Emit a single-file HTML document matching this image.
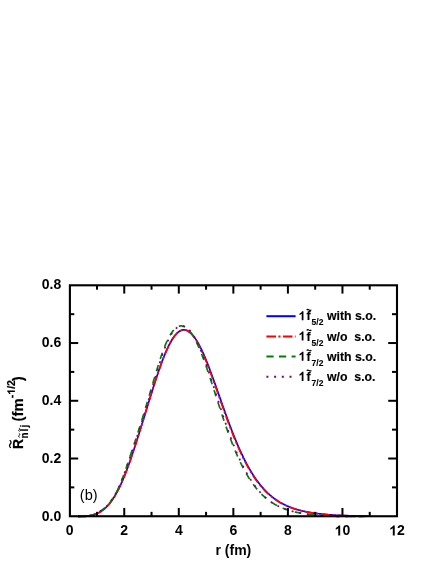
<!DOCTYPE html>
<html><head><meta charset="utf-8"><title>chart</title>
<style>
html,body{margin:0;padding:0;background:#fff;}
body{width:436px;height:564px;overflow:hidden;}
svg{display:block;will-change:transform;}
text{font-family:"Liberation Sans",sans-serif;fill:#000;}
.tk text{font-size:14px;font-weight:bold;}
.lg{font-size:12.3px;font-weight:bold;stroke:#000;stroke-width:0.15px;}
.sb{font-size:8.5px;font-weight:bold;stroke:#000;stroke-width:0.1px;}
.yl{font-size:14px;font-weight:bold;stroke:#000;stroke-width:0.2px;}
.ys{font-size:10px;font-weight:bold;stroke:#000;stroke-width:0.15px;}
.ax line{stroke:#000;stroke-width:2;}
.cv path{fill:none;stroke-width:1.7;stroke-linejoin:round;}
</style></head><body>
<svg width="436" height="564" viewBox="0 0 436 564">
<rect width="436" height="564" fill="#fff"/>
<g class="cv">
<path d="M78.00,516.37 L78.50,516.37 L79.00,516.37 L79.50,516.37 L80.00,516.37 L80.50,516.37 L81.00,516.37 L81.50,516.37 L82.00,516.37 L82.50,516.37 L83.00,516.37 L83.50,516.37 L84.00,516.36 L84.50,516.35 L85.00,516.33 L85.50,516.30 L86.00,516.26 L86.50,516.20 L87.00,516.14 L87.50,516.06 L88.00,515.98 L88.50,515.88 L89.00,515.78 L89.50,515.66 L90.00,515.55 L90.50,515.43 L91.00,515.31 L91.50,515.19 L92.00,515.08 L92.50,514.96 L93.00,514.84 L93.50,514.71 L94.00,514.57 L94.50,514.42 L95.00,514.26 L95.50,514.09 L96.00,513.90 L96.50,513.71 L97.00,513.51 L97.50,513.29 L98.00,513.06 L98.50,512.82 L99.00,512.57 L99.50,512.30 L100.00,512.02 L100.50,511.72 L101.00,511.41 L101.50,511.09 L102.00,510.75 L102.50,510.40 L103.00,510.02 L103.50,509.64 L104.00,509.23 L104.50,508.81 L105.00,508.37 L105.50,507.92 L106.00,507.45 L106.50,506.95 L107.00,506.45 L107.50,505.92 L108.00,505.37 L108.50,504.80 L109.00,504.22 L109.50,503.61 L110.00,502.99 L110.50,502.35 L111.00,501.68 L111.50,501.00 L112.00,500.29 L112.50,499.57 L113.00,498.82 L113.50,498.06 L114.00,497.27 L114.50,496.46 L115.00,495.63 L115.50,494.78 L116.00,493.91 L116.50,493.02 L117.00,492.11 L117.50,491.17 L118.00,490.22 L118.50,489.24 L119.00,488.24 L119.50,487.22 L120.00,486.17 L120.50,485.11 L121.00,484.02 L121.50,482.91 L122.00,481.79 L122.50,480.63 L123.00,479.46 L123.50,478.27 L124.00,477.06 L124.50,475.83 L125.00,474.57 L125.50,473.30 L126.00,472.02 L126.50,470.71 L127.00,469.39 L127.50,468.04 L128.00,466.69 L128.50,465.31 L129.00,463.92 L129.50,462.52 L130.00,461.10 L130.50,459.66 L131.00,458.22 L131.50,456.76 L132.00,455.28 L132.50,453.80 L133.00,452.30 L133.50,450.79 L134.00,449.27 L134.50,447.75 L135.00,446.21 L135.50,444.66 L136.00,443.11 L136.50,441.55 L137.00,439.98 L137.50,438.41 L138.00,436.83 L138.50,435.24 L139.00,433.65 L139.50,432.05 L140.00,430.45 L140.50,428.85 L141.00,427.24 L141.50,425.62 L142.00,424.01 L142.50,422.39 L143.00,420.77 L143.50,419.14 L144.00,417.51 L144.50,415.89 L145.00,414.26 L145.50,412.62 L146.00,410.99 L146.50,409.36 L147.00,407.73 L147.50,406.10 L148.00,404.47 L148.50,402.85 L149.00,401.22 L149.50,399.60 L150.00,397.98 L150.50,396.36 L151.00,394.75 L151.50,393.14 L152.00,391.54 L152.50,389.95 L153.00,388.36 L153.50,386.78 L154.00,385.20 L154.50,383.64 L155.00,382.08 L155.50,380.54 L156.00,379.00 L156.50,377.48 L157.00,375.97 L157.50,374.48 L158.00,372.99 L158.50,371.52 L159.00,370.07 L159.50,368.63 L160.00,367.21 L160.50,365.81 L161.00,364.42 L161.50,363.06 L162.00,361.71 L162.50,360.38 L163.00,359.07 L163.50,357.79 L164.00,356.53 L164.50,355.28 L165.00,354.07 L165.50,352.87 L166.00,351.70 L166.50,350.56 L167.00,349.44 L167.50,348.35 L168.00,347.28 L168.50,346.24 L169.00,345.23 L169.50,344.25 L170.00,343.30 L170.50,342.37 L171.00,341.48 L171.50,340.62 L172.00,339.78 L172.50,338.98 L173.00,338.21 L173.50,337.48 L174.00,336.77 L174.50,336.10 L175.00,335.46 L175.50,334.85 L176.00,334.28 L176.50,333.74 L177.00,333.24 L177.50,332.77 L178.00,332.33 L178.50,331.94 L179.00,331.57 L179.50,331.24 L180.00,330.95 L180.50,330.69 L181.00,330.47 L181.50,330.28 L182.00,330.13 L182.50,330.01 L183.00,329.94 L183.50,329.89 L184.00,329.88 L184.50,329.91 L185.00,329.98 L185.50,330.07 L186.00,330.21 L186.50,330.38 L187.00,330.58 L187.51,330.82 L188.01,331.09 L188.52,331.40 L189.02,331.74 L189.53,332.12 L190.04,332.53 L190.55,332.97 L191.06,333.44 L191.57,333.95 L192.08,334.49 L192.59,335.06 L193.10,335.66 L193.61,336.29 L194.13,336.96 L194.64,337.65 L195.15,338.37 L195.66,339.12 L196.17,339.90 L196.69,340.71 L197.20,341.54 L197.71,342.40 L198.22,343.29 L198.73,344.20 L199.24,345.14 L199.75,346.10 L200.26,347.09 L200.77,348.10 L201.28,349.13 L201.78,350.18 L202.29,351.26 L202.79,352.36 L203.30,353.47 L203.80,354.61 L204.30,355.76 L204.80,356.94 L205.30,358.13 L205.80,359.34 L206.30,360.56 L206.80,361.80 L207.30,363.06 L207.80,364.33 L208.30,365.61 L208.80,366.91 L209.30,368.21 L209.80,369.53 L210.30,370.87 L210.80,372.21 L211.30,373.56 L211.80,374.92 L212.30,376.29 L212.80,377.67 L213.30,379.05 L213.80,380.44 L214.30,381.84 L214.80,383.24 L215.30,384.65 L215.80,386.06 L216.30,387.48 L216.80,388.90 L217.30,390.32 L217.80,391.75 L218.30,393.17 L218.80,394.60 L219.30,396.03 L219.80,397.45 L220.30,398.88 L220.80,400.30 L221.30,401.73 L221.80,403.15 L222.30,404.57 L222.80,405.98 L223.30,407.40 L223.80,408.81 L224.30,410.21 L224.80,411.61 L225.30,413.00 L225.80,414.39 L226.30,415.78 L226.80,417.15 L227.30,418.52 L227.80,419.88 L228.30,421.24 L228.80,422.59 L229.30,423.93 L229.80,425.26 L230.30,426.58 L230.80,427.90 L231.30,429.20 L231.80,430.50 L232.30,431.78 L232.80,433.06 L233.30,434.32 L233.80,435.58 L234.30,436.82 L234.80,438.06 L235.30,439.28 L235.80,440.49 L236.30,441.69 L236.80,442.88 L237.30,444.06 L237.80,445.23 L238.30,446.38 L238.80,447.52 L239.30,448.65 L239.80,449.77 L240.30,450.88 L240.80,451.97 L241.30,453.05 L241.80,454.12 L242.30,455.18 L242.80,456.22 L243.30,457.25 L243.80,458.27 L244.30,459.27 L244.80,460.27 L245.30,461.25 L245.80,462.22 L246.30,463.17 L246.80,464.11 L247.30,465.04 L247.80,465.96 L248.30,466.86 L248.80,467.75 L249.30,468.63 L249.80,469.50 L250.30,470.35 L250.80,471.19 L251.30,472.02 L251.80,472.84 L252.30,473.65 L252.80,474.44 L253.30,475.22 L253.80,475.99 L254.30,476.74 L254.80,477.49 L255.30,478.22 L255.80,478.94 L256.30,479.65 L256.80,480.35 L257.30,481.04 L257.80,481.72 L258.30,482.38 L258.80,483.03 L259.30,483.68 L259.80,484.31 L260.30,484.93 L260.80,485.54 L261.30,486.14 L261.80,486.73 L262.30,487.31 L262.80,487.88 L263.30,488.44 L263.80,488.99 L264.30,489.53 L264.80,490.06 L265.30,490.58 L265.79,491.09 L266.29,491.60 L266.79,492.09 L267.29,492.57 L267.79,493.05 L268.29,493.52 L268.78,493.98 L269.28,494.42 L269.78,494.87 L270.28,495.30 L270.77,495.72 L271.27,496.14 L271.77,496.55 L272.26,496.95 L272.76,497.34 L273.26,497.73 L273.75,498.11 L274.25,498.48 L274.75,498.85 L275.24,499.20 L275.74,499.55 L276.24,499.90 L276.73,500.23 L277.23,500.57 L277.72,500.89 L278.22,501.21 L278.72,501.52 L279.21,501.82 L279.71,502.12 L280.20,502.42 L280.70,502.70 L281.19,502.99 L281.69,503.26 L282.19,503.53 L282.68,503.80 L283.18,504.06 L283.67,504.31 L284.17,504.56 L284.67,504.81 L285.16,505.05 L285.66,505.28 L286.15,505.51 L286.65,505.74 L287.15,505.96 L287.64,506.18 L288.14,506.39 L288.64,506.60 L289.13,506.80 L289.63,507.00 L290.13,507.20 L290.62,507.39 L291.12,507.58 L291.62,507.76 L292.11,507.94 L292.61,508.12 L293.11,508.29 L293.61,508.46 L294.10,508.62 L294.60,508.79 L295.10,508.95 L295.60,509.10 L296.10,509.26 L296.60,509.41 L297.09,509.55 L297.59,509.70 L298.09,509.84 L298.59,509.98 L299.09,510.11 L299.59,510.24 L300.09,510.37 L300.59,510.50 L301.09,510.62 L301.59,510.75 L302.09,510.87 L302.59,510.98 L303.09,511.10 L303.59,511.21 L304.09,511.32 L304.59,511.43 L305.09,511.53 L305.59,511.64 L306.09,511.74 L306.59,511.84 L307.09,511.94 L307.59,512.03 L308.09,512.13 L308.59,512.22 L309.09,512.31 L309.59,512.40 L310.09,512.48 L310.59,512.57 L311.09,512.65 L311.59,512.73 L312.09,512.81 L312.59,512.89 L313.09,512.97 L313.59,513.04 L314.09,513.12 L314.59,513.19 L315.09,513.26 L315.59,513.33 L316.09,513.40 L316.59,513.46 L317.09,513.53 L317.59,513.59 L318.09,513.65 L318.59,513.72 L319.09,513.78 L319.59,513.84 L320.09,513.89 L320.59,513.95 L321.09,514.01 L321.59,514.06 L322.09,514.12 L322.59,514.17 L323.09,514.22 L323.59,514.27 L324.09,514.32 L324.59,514.37 L325.09,514.42 L325.59,514.47 L326.09,514.51 L326.59,514.56 L327.09,514.60 L327.59,514.64 L328.09,514.69 L328.59,514.73 L329.09,514.77 L329.59,514.81 L330.09,514.85 L330.59,514.89 L331.09,514.93 L331.59,514.96 L332.09,515.00 L332.59,515.03 L333.09,515.07 L333.59,515.10 L334.09,515.13 L334.59,515.16 L335.09,515.19 L335.59,515.22 L336.09,515.25 L336.59,515.28 L337.09,515.30 L337.59,515.33 L338.09,515.35 L338.59,515.38 L339.09,515.40 L339.59,515.42 L340.09,515.45 L340.59,515.47 L341.09,515.49 L341.59,515.51 L342.09,515.53 L342.59,515.55 L343.09,515.56 L343.59,515.58 L344.09,515.60 L344.59,515.61 L345.09,515.63 L345.59,515.64 L346.09,515.66 L346.59,515.67 L347.09,515.69 L347.59,515.70 L348.09,515.71 L348.59,515.73 L349.09,515.74 L349.59,515.75 L350.09,515.76 L350.59,515.78 L351.09,515.79 L351.59,515.80 L352.09,515.81 L352.59,515.82 L353.09,515.83 L353.59,515.84 L354.09,515.85 L354.59,515.86 L355.09,515.88 L355.59,515.89 L356.09,515.90 L356.59,515.91 L357.09,515.92 L357.59,515.93 L358.09,515.94 L358.59,515.95 L359.09,515.96 L359.59,515.97 L360.09,515.98 L360.59,516.00 L361.09,516.01 L361.59,516.02 L362.09,516.03 L362.59,516.04 L363.09,516.05 L363.59,516.06 L364.09,516.07 L364.59,516.08 L365.09,516.09 L365.59,516.10 L366.09,516.11 L366.59,516.11 L367.09,516.12 L367.59,516.13 L368.09,516.14" stroke="#0000ff"/>
<path d="M78.00,516.37 L78.50,516.37 L79.00,516.37 L79.50,516.37 L80.00,516.37 L80.50,516.37 L81.00,516.37 L81.50,516.37 L82.00,516.37 L82.50,516.37 L83.00,516.37 L83.50,516.37 L84.00,516.36 L84.50,516.35 L85.00,516.33 L85.50,516.30 L86.00,516.26 L86.50,516.20 L87.00,516.14 L87.50,516.06 L88.00,515.98 L88.50,515.88 L89.00,515.78 L89.50,515.66 L90.00,515.55 L90.50,515.43 L91.00,515.31 L91.50,515.19 L92.00,515.08 L92.50,514.96 L93.00,514.84 L93.50,514.71 L94.00,514.57 L94.50,514.42 L95.00,514.26 L95.50,514.09 L96.00,513.90 L96.50,513.71 L97.00,513.51 L97.50,513.29 L98.00,513.06 L98.50,512.82 L99.00,512.57 L99.50,512.30 L100.00,512.02 L100.50,511.72 L101.00,511.41 L101.50,511.09 L102.00,510.75 L102.50,510.40 L103.00,510.02 L103.50,509.64 L104.00,509.23 L104.50,508.81 L105.00,508.37 L105.50,507.92 L106.00,507.45 L106.50,506.95 L107.00,506.45 L107.50,505.92 L108.00,505.37 L108.50,504.80 L109.00,504.22 L109.50,503.61 L110.00,502.99 L110.50,502.35 L111.00,501.68 L111.50,501.00 L112.00,500.29 L112.50,499.57 L113.00,498.82 L113.50,498.06 L114.00,497.27 L114.50,496.46 L115.00,495.63 L115.50,494.78 L116.00,493.91 L116.50,493.02 L117.00,492.11 L117.50,491.17 L118.00,490.22 L118.50,489.24 L119.00,488.24 L119.50,487.22 L120.00,486.17 L120.50,485.11 L121.00,484.02 L121.50,482.91 L122.00,481.79 L122.50,480.63 L123.00,479.46 L123.50,478.27 L124.00,477.06 L124.50,475.83 L125.00,474.57 L125.50,473.30 L126.00,472.02 L126.50,470.71 L127.00,469.39 L127.50,468.04 L128.00,466.69 L128.50,465.31 L129.00,463.92 L129.50,462.52 L130.00,461.10 L130.50,459.66 L131.00,458.22 L131.50,456.76 L132.00,455.28 L132.50,453.80 L133.00,452.30 L133.50,450.79 L134.00,449.27 L134.50,447.75 L135.00,446.21 L135.50,444.66 L136.00,443.11 L136.50,441.55 L137.00,439.98 L137.50,438.41 L138.00,436.83 L138.50,435.24 L139.00,433.65 L139.50,432.05 L140.00,430.45 L140.50,428.85 L141.00,427.24 L141.50,425.62 L142.00,424.01 L142.50,422.39 L143.00,420.77 L143.50,419.14 L144.00,417.51 L144.50,415.89 L145.00,414.26 L145.50,412.62 L146.00,410.99 L146.50,409.36 L147.00,407.73 L147.50,406.10 L148.00,404.47 L148.50,402.85 L149.00,401.22 L149.50,399.60 L150.00,397.98 L150.50,396.36 L151.00,394.75 L151.50,393.14 L152.00,391.54 L152.50,389.95 L153.00,388.36 L153.50,386.78 L154.00,385.20 L154.50,383.64 L155.00,382.08 L155.50,380.54 L156.00,379.00 L156.50,377.48 L157.00,375.97 L157.50,374.48 L158.00,372.99 L158.50,371.52 L159.00,370.07 L159.50,368.63 L160.00,367.21 L160.50,365.81 L161.00,364.42 L161.50,363.06 L162.00,361.71 L162.50,360.38 L163.00,359.07 L163.50,357.79 L164.00,356.53 L164.50,355.28 L165.00,354.07 L165.50,352.87 L166.00,351.70 L166.50,350.56 L167.00,349.44 L167.50,348.35 L168.00,347.28 L168.50,346.24 L169.00,345.23 L169.50,344.25 L170.00,343.30 L170.50,342.37 L171.00,341.48 L171.50,340.62 L172.00,339.78 L172.50,338.98 L173.00,338.21 L173.50,337.48 L174.00,336.77 L174.50,336.10 L175.00,335.46 L175.50,334.85 L176.00,334.28 L176.50,333.74 L177.00,333.24 L177.50,332.77 L178.00,332.33 L178.50,331.94 L179.00,331.57 L179.50,331.24 L180.00,330.95 L180.50,330.69 L181.00,330.47 L181.50,330.28 L182.00,330.13 L182.50,330.01 L183.00,329.94 L183.50,329.89 L184.00,329.88 L184.50,329.91 L185.00,329.98 L185.50,330.07 L186.00,330.21 L186.50,330.38 L187.00,330.58 L187.50,330.82 L187.99,331.09 L188.49,331.40 L188.99,331.74 L189.48,332.12 L189.97,332.53 L190.47,332.97 L190.96,333.44 L191.46,333.95 L191.95,334.49 L192.44,335.06 L192.93,335.66 L193.42,336.29 L193.92,336.96 L194.41,337.65 L194.90,338.37 L195.39,339.12 L195.88,339.90 L196.38,340.71 L196.87,341.54 L197.36,342.40 L197.85,343.29 L198.34,344.20 L198.84,345.14 L199.33,346.10 L199.83,347.09 L200.32,348.10 L200.81,349.13 L201.31,350.18 L201.81,351.26 L202.30,352.36 L202.80,353.47 L203.30,354.61 L203.80,355.76 L204.30,356.94 L204.80,358.13 L205.30,359.34 L205.80,360.56 L206.30,361.80 L206.80,363.06 L207.30,364.33 L207.80,365.61 L208.30,366.91 L208.80,368.21 L209.30,369.53 L209.80,370.87 L210.30,372.21 L210.80,373.56 L211.30,374.92 L211.80,376.29 L212.30,377.67 L212.80,379.05 L213.30,380.44 L213.80,381.84 L214.30,383.24 L214.80,384.65 L215.30,386.06 L215.80,387.48 L216.30,388.90 L216.80,390.32 L217.30,391.75 L217.80,393.17 L218.30,394.60 L218.80,396.03 L219.30,397.45 L219.80,398.88 L220.30,400.30 L220.80,401.73 L221.30,403.15 L221.80,404.57 L222.30,405.98 L222.80,407.40 L223.30,408.81 L223.80,410.21 L224.30,411.61 L224.80,413.00 L225.30,414.39 L225.80,415.78 L226.30,417.15 L226.80,418.52 L227.30,419.88 L227.80,421.24 L228.30,422.59 L228.80,423.93 L229.30,425.26 L229.80,426.58 L230.30,427.90 L230.80,429.20 L231.30,430.50 L231.80,431.78 L232.30,433.06 L232.80,434.32 L233.30,435.58 L233.80,436.82 L234.30,438.06 L234.80,439.28 L235.30,440.49 L235.80,441.69 L236.30,442.88 L236.80,444.06 L237.30,445.23 L237.80,446.38 L238.30,447.52 L238.80,448.65 L239.30,449.77 L239.80,450.88 L240.30,451.97 L240.80,453.05 L241.30,454.12 L241.80,455.18 L242.30,456.22 L242.80,457.25 L243.30,458.27 L243.80,459.27 L244.30,460.27 L244.80,461.25 L245.30,462.22 L245.80,463.17 L246.30,464.11 L246.80,465.04 L247.30,465.96 L247.80,466.86 L248.30,467.75 L248.80,468.63 L249.30,469.50 L249.80,470.35 L250.30,471.19 L250.80,472.02 L251.30,472.84 L251.80,473.65 L252.30,474.44 L252.80,475.22 L253.30,475.99 L253.80,476.74 L254.30,477.49 L254.80,478.22 L255.30,478.94 L255.80,479.65 L256.30,480.35 L256.80,481.04 L257.30,481.72 L257.80,482.38 L258.30,483.03 L258.80,483.68 L259.30,484.31 L259.80,484.93 L260.30,485.54 L260.80,486.14 L261.30,486.73 L261.80,487.31 L262.30,487.88 L262.80,488.44 L263.30,488.99 L263.80,489.53 L264.30,490.06 L264.80,490.58 L265.30,491.09 L265.80,491.60 L266.30,492.09 L266.80,492.57 L267.30,493.05 L267.80,493.52 L268.30,493.98 L268.80,494.42 L269.30,494.87 L269.80,495.30 L270.30,495.72 L270.80,496.14 L271.30,496.55 L271.80,496.95 L272.30,497.34 L272.80,497.73 L273.30,498.11 L273.80,498.48 L274.30,498.85 L274.80,499.20 L275.30,499.55 L275.80,499.90 L276.30,500.23 L276.80,500.57 L277.30,500.89 L277.80,501.21 L278.30,501.52 L278.80,501.82 L279.30,502.12 L279.80,502.42 L280.30,502.70 L280.80,502.99 L281.30,503.26 L281.80,503.53 L282.30,503.80 L282.80,504.06 L283.30,504.31 L283.80,504.56 L284.30,504.81 L284.80,505.05 L285.30,505.28 L285.80,505.51 L286.30,505.74 L286.80,505.96 L287.30,506.18 L287.80,506.39 L288.30,506.60 L288.80,506.80 L289.30,507.00 L289.80,507.20 L290.30,507.39 L290.80,507.58 L291.30,507.76 L291.80,507.94 L292.30,508.12 L292.80,508.29 L293.30,508.46 L293.80,508.62 L294.30,508.79 L294.80,508.95 L295.30,509.10 L295.80,509.26 L296.30,509.41 L296.80,509.55 L297.30,509.70 L297.80,509.84 L298.30,509.98 L298.80,510.11 L299.30,510.24 L299.80,510.37 L300.30,510.50 L300.80,510.62 L301.30,510.75 L301.80,510.87 L302.30,510.98 L302.80,511.10 L303.30,511.21 L303.80,511.32 L304.30,511.43 L304.80,511.53 L305.30,511.64 L305.80,511.74 L306.30,511.84 L306.80,511.94 L307.30,512.03 L307.80,512.13 L308.30,512.22 L308.80,512.31 L309.30,512.40 L309.80,512.48 L310.30,512.57 L310.80,512.65 L311.30,512.73 L311.80,512.81 L312.30,512.89 L312.80,512.97 L313.30,513.04 L313.80,513.12 L314.30,513.19 L314.80,513.26 L315.30,513.33 L315.80,513.40 L316.30,513.46 L316.80,513.53 L317.30,513.59 L317.80,513.65 L318.30,513.72 L318.80,513.78 L319.30,513.84 L319.80,513.89 L320.30,513.95 L320.80,514.01 L321.30,514.06 L321.80,514.12 L322.30,514.17 L322.80,514.22 L323.30,514.27 L323.80,514.32 L324.30,514.37 L324.80,514.42 L325.30,514.47 L325.80,514.51 L326.30,514.56 L326.80,514.60 L327.30,514.64 L327.80,514.69 L328.30,514.73 L328.80,514.77 L329.30,514.81 L329.80,514.85 L330.30,514.89 L330.80,514.93 L331.30,514.96 L331.80,515.00 L332.30,515.03 L332.80,515.07 L333.30,515.10 L333.80,515.13 L334.30,515.16 L334.80,515.19 L335.30,515.22 L335.80,515.25 L336.30,515.28 L336.80,515.30 L337.30,515.33 L337.80,515.35 L338.30,515.38 L338.80,515.40 L339.30,515.42 L339.80,515.45 L340.30,515.47 L340.80,515.49 L341.30,515.51 L341.80,515.53 L342.30,515.55 L342.80,515.56 L343.30,515.58 L343.80,515.60 L344.30,515.61 L344.80,515.63 L345.30,515.64 L345.80,515.66 L346.30,515.67 L346.80,515.69 L347.30,515.70 L347.80,515.71 L348.30,515.73 L348.80,515.74 L349.30,515.75 L349.80,515.76 L350.30,515.78 L350.80,515.79 L351.30,515.80 L351.80,515.81 L352.30,515.82 L352.80,515.83 L353.30,515.84 L353.80,515.85 L354.30,515.86 L354.80,515.88 L355.30,515.89 L355.80,515.90 L356.30,515.91 L356.80,515.92 L357.30,515.93 L357.80,515.94 L358.30,515.95 L358.80,515.96 L359.30,515.97 L359.80,515.98 L360.30,516.00 L360.80,516.01 L361.30,516.02 L361.80,516.03 L362.30,516.04 L362.80,516.05 L363.30,516.06 L363.80,516.07 L364.30,516.08 L364.80,516.09 L365.30,516.10 L365.80,516.11 L366.30,516.11 L366.80,516.12 L367.30,516.13 L367.80,516.14" stroke="#ff0000" stroke-dasharray="8.6 2.7 2.3 2.7"/>
<path d="M78.00,516.37 L78.50,516.37 L79.00,516.37 L79.50,516.37 L80.00,516.37 L80.50,516.37 L81.00,516.37 L81.50,516.37 L82.00,516.37 L82.50,516.37 L83.00,516.37 L83.50,516.37 L84.00,516.36 L84.50,516.35 L85.00,516.33 L85.50,516.31 L86.00,516.29 L86.50,516.26 L87.00,516.22 L87.50,516.18 L88.00,516.12 L88.50,516.06 L89.00,515.98 L89.50,515.88 L90.00,515.77 L90.50,515.65 L91.00,515.52 L91.50,515.37 L92.00,515.22 L92.50,515.07 L93.00,514.90 L93.50,514.72 L94.00,514.53 L94.50,514.33 L95.00,514.11 L95.50,513.89 L96.00,513.66 L96.50,513.41 L97.00,513.15 L97.50,512.89 L98.00,512.61 L98.50,512.32 L99.00,512.03 L99.50,511.72 L100.00,511.40 L100.50,511.08 L101.00,510.74 L101.50,510.39 L102.00,510.04 L102.50,509.67 L103.00,509.29 L103.50,508.90 L104.00,508.49 L104.50,508.07 L105.00,507.64 L105.50,507.19 L106.00,506.72 L106.50,506.24 L107.00,505.73 L107.50,505.21 L108.00,504.68 L108.50,504.12 L109.00,503.54 L109.50,502.94 L110.00,502.32 L110.50,501.67 L111.00,501.01 L111.50,500.32 L112.00,499.60 L112.50,498.87 L113.00,498.11 L113.50,497.32 L114.00,496.50 L114.50,495.66 L115.00,494.80 L115.50,493.90 L116.00,492.98 L116.50,492.03 L117.00,491.05 L117.50,490.04 L118.00,489.00 L118.50,487.93 L119.00,486.82 L119.50,485.69 L120.00,484.53 L120.50,483.33 L121.00,482.10 L121.50,480.84 L122.00,479.55 L122.50,478.23 L123.00,476.89 L123.50,475.53 L124.00,474.14 L124.50,472.74 L125.00,471.32 L125.50,469.89 L126.00,468.45 L126.50,466.99 L127.00,465.52 L127.50,464.04 L128.00,462.56 L128.50,461.07 L129.00,459.57 L129.50,458.07 L130.00,456.57 L130.50,455.06 L131.00,453.56 L131.50,452.06 L132.00,450.55 L132.50,449.04 L133.00,447.53 L133.50,446.02 L134.00,444.50 L134.50,442.98 L135.00,441.46 L135.50,439.93 L136.00,438.40 L136.50,436.86 L137.00,435.32 L137.50,433.77 L138.00,432.22 L138.50,430.66 L139.00,429.09 L139.50,427.52 L140.00,425.93 L140.50,424.35 L141.00,422.75 L141.50,421.15 L142.00,419.53 L142.50,417.92 L143.00,416.29 L143.50,414.66 L144.00,413.02 L144.50,411.37 L145.00,409.72 L145.50,408.07 L146.00,406.40 L146.50,404.74 L147.00,403.06 L147.50,401.38 L148.00,399.70 L148.50,398.01 L149.00,396.32 L149.50,394.63 L150.00,392.93 L150.50,391.23 L151.00,389.53 L151.50,387.83 L152.00,386.13 L152.50,384.43 L153.00,382.73 L153.50,381.04 L154.00,379.35 L154.50,377.67 L155.00,376.00 L155.50,374.33 L156.00,372.67 L156.50,371.02 L157.00,369.38 L157.50,367.76 L158.00,366.14 L158.50,364.54 L159.00,362.96 L159.50,361.39 L160.00,359.84 L160.50,358.31 L161.00,356.80 L161.50,355.31 L162.00,353.86 L162.50,352.43 L163.00,351.04 L163.50,349.67 L164.00,348.35 L164.50,347.06 L165.00,345.80 L165.50,344.58 L166.00,343.40 L166.50,342.25 L167.00,341.15 L167.50,340.08 L168.00,339.05 L168.50,338.06 L169.00,337.10 L169.50,336.19 L170.00,335.31 L170.50,334.47 L171.00,333.67 L171.50,332.91 L172.00,332.19 L172.50,331.51 L173.00,330.87 L173.50,330.27 L174.00,329.71 L174.50,329.19 L175.00,328.71 L175.50,328.26 L176.00,327.86 L176.50,327.49 L177.00,327.17 L177.50,326.88 L178.00,326.63 L178.50,326.42 L179.00,326.25 L179.50,326.11 L180.00,326.02 L180.50,325.96 L181.00,325.93 L181.50,325.95 L182.00,326.00 L182.50,326.08 L183.00,326.20 L183.50,326.36 L184.00,326.55 L184.50,326.77 L185.00,327.03 L185.50,327.33 L186.00,327.66 L186.50,328.03 L187.00,328.43 L187.50,328.86 L188.00,329.33 L188.50,329.84 L189.00,330.37 L189.50,330.95 L190.00,331.55 L190.50,332.19 L191.00,332.86 L191.50,333.56 L192.00,334.30 L192.50,335.06 L193.00,335.86 L193.50,336.69 L194.00,337.55 L194.50,338.44 L195.00,339.35 L195.50,340.30 L196.00,341.28 L196.50,342.28 L197.00,343.31 L197.50,344.37 L198.00,345.46 L198.50,346.57 L199.00,347.71 L199.50,348.87 L200.00,350.05 L200.50,351.26 L201.00,352.49 L201.50,353.75 L202.00,355.03 L202.50,356.32 L203.00,357.64 L203.50,358.97 L204.00,360.33 L204.50,361.70 L205.00,363.09 L205.50,364.49 L206.00,365.91 L206.50,367.34 L207.00,368.79 L207.50,370.25 L208.00,371.72 L208.50,373.20 L209.00,374.69 L209.50,376.19 L210.00,377.70 L210.50,379.22 L211.00,380.74 L211.50,382.27 L212.00,383.81 L212.50,385.35 L213.00,386.90 L213.50,388.45 L214.00,390.00 L214.50,391.55 L215.00,393.11 L215.50,394.66 L216.00,396.22 L216.50,397.78 L217.00,399.33 L217.50,400.88 L218.00,402.44 L218.50,403.98 L219.00,405.53 L219.50,407.07 L220.00,408.60 L220.50,410.13 L221.00,411.65 L221.50,413.17 L222.00,414.68 L222.50,416.19 L223.00,417.68 L223.50,419.17 L224.00,420.65 L224.50,422.12 L225.00,423.58 L225.50,425.03 L226.00,426.47 L226.50,427.90 L227.00,429.31 L227.50,430.72 L228.00,432.11 L228.50,433.50 L229.00,434.87 L229.50,436.22 L230.00,437.57 L230.50,438.90 L231.00,440.22 L231.50,441.52 L232.00,442.82 L232.50,444.09 L233.00,445.36 L233.50,446.60 L234.00,447.84 L234.50,449.06 L235.00,450.27 L235.50,451.46 L236.00,452.63 L236.50,453.80 L237.00,454.94 L237.50,456.08 L238.00,457.19 L238.50,458.30 L239.00,459.39 L239.50,460.46 L240.00,461.52 L240.50,462.56 L241.00,463.59 L241.50,464.60 L242.00,465.60 L242.50,466.59 L243.00,467.56 L243.50,468.51 L244.00,469.45 L244.50,470.38 L245.00,471.29 L245.50,472.19 L246.00,473.07 L246.50,473.94 L247.00,474.80 L247.50,475.64 L248.00,476.46 L248.50,477.28 L249.00,478.08 L249.50,478.86 L250.00,479.64 L250.50,480.40 L251.00,481.15 L251.50,481.88 L252.00,482.60 L252.50,483.31 L253.00,484.01 L253.50,484.69 L254.00,485.36 L254.50,486.02 L255.00,486.67 L255.50,487.30 L256.00,487.93 L256.50,488.54 L257.00,489.14 L257.50,489.73 L258.00,490.31 L258.50,490.88 L259.00,491.44 L259.50,491.98 L260.00,492.52 L260.50,493.04 L261.00,493.56 L261.50,494.06 L262.00,494.56 L262.50,495.05 L263.00,495.52 L263.50,495.99 L264.00,496.45 L264.50,496.89 L265.00,497.33 L265.50,497.76 L266.00,498.18 L266.50,498.60 L267.00,499.00 L267.50,499.40 L268.00,499.78 L268.50,500.16 L269.00,500.54 L269.50,500.90 L270.00,501.26 L270.50,501.61 L271.00,501.95 L271.50,502.28 L272.00,502.61 L272.50,502.93 L273.00,503.24 L273.50,503.55 L274.00,503.85 L274.50,504.14 L275.00,504.43 L275.50,504.71 L276.00,504.99 L276.50,505.26 L277.00,505.52 L277.50,505.78 L278.00,506.03 L278.50,506.28 L279.00,506.52 L279.50,506.76 L280.00,506.99 L280.50,507.21 L281.00,507.43 L281.50,507.65 L282.00,507.86 L282.50,508.07 L283.00,508.27 L283.50,508.47 L284.00,508.66 L284.50,508.85 L285.00,509.03 L285.50,509.21 L286.00,509.39 L286.50,509.56 L287.00,509.73 L287.50,509.90 L288.00,510.06 L288.50,510.22 L289.00,510.37 L289.50,510.52 L290.00,510.67 L290.50,510.81 L291.00,510.95 L291.50,511.09 L292.00,511.23 L292.50,511.36 L293.00,511.49 L293.50,511.61 L294.00,511.74 L294.50,511.86 L295.00,511.97 L295.50,512.09 L296.00,512.20 L296.50,512.31 L297.00,512.42 L297.50,512.52 L298.00,512.63 L298.50,512.73 L299.00,512.83 L299.50,512.92 L300.00,513.02 L300.50,513.11 L301.00,513.20 L301.50,513.29 L302.00,513.37 L302.50,513.46 L303.00,513.54 L303.50,513.62 L304.00,513.70 L304.50,513.77 L305.00,513.85 L305.50,513.92 L306.00,513.99 L306.50,514.06 L307.00,514.13 L307.50,514.20 L308.00,514.26 L308.50,514.33 L309.00,514.39 L309.50,514.45 L310.00,514.51 L310.50,514.57 L311.00,514.63 L311.50,514.68 L312.00,514.74 L312.50,514.79 L313.00,514.84 L313.50,514.89 L314.00,514.94 L314.50,514.99 L315.00,515.04 L315.50,515.09 L316.00,515.13 L316.50,515.18 L317.00,515.22 L317.50,515.27 L318.00,515.31 L318.50,515.35 L319.00,515.39 L319.50,515.43 L320.00,515.47 L320.50,515.50 L321.00,515.54 L321.50,515.57 L322.00,515.61 L322.50,515.64 L323.00,515.68 L323.50,515.71 L324.00,515.74 L324.50,515.77 L325.00,515.80 L325.50,515.83 L326.00,515.86 L326.50,515.89 L327.00,515.92 L327.50,515.94 L328.00,515.97 L328.50,516.00 L329.00,516.02 L329.50,516.05 L330.00,516.07 L330.50,516.09 L331.00,516.11 L331.50,516.14 L332.00,516.16 L332.50,516.18 L333.00,516.19 L333.50,516.21 L334.00,516.23 L334.50,516.24 L335.00,516.26 L335.50,516.27 L336.00,516.28 L336.50,516.29 L337.00,516.30 L337.50,516.31 L338.00,516.32 L338.50,516.33 L339.00,516.34 L339.50,516.35 L340.00,516.35 L340.50,516.36 L341.00,516.36 L341.50,516.37 L342.00,516.37 L342.50,516.37 L343.00,516.37 L343.50,516.37 L344.00,516.37 L344.50,516.37 L345.00,516.37 L345.50,516.37 L346.00,516.37 L346.50,516.37 L347.00,516.37 L347.50,516.37 L348.00,516.37 L348.50,516.37 L349.00,516.37 L349.50,516.37 L350.00,516.37 L350.50,516.36 L351.00,516.36 L351.50,516.36 L352.00,516.36 L352.50,516.36 L353.00,516.35 L353.50,516.35 L354.00,516.35 L354.50,516.35 L355.00,516.35 L355.50,516.34 L356.00,516.34 L356.50,516.34 L357.00,516.34 L357.50,516.34 L358.00,516.34 L358.50,516.34 L359.00,516.35 L359.50,516.35 L360.00,516.35 L360.50,516.35 L361.00,516.36 L361.50,516.36 L362.00,516.36 L362.50,516.36 L363.00,516.36 L363.50,516.37 L364.00,516.37 L364.50,516.37 L365.00,516.37 L365.50,516.37 L366.00,516.37 L366.50,516.37 L367.00,516.37 L367.50,516.37 L368.00,516.37" stroke="#008000" stroke-dasharray="6.5 6.3" stroke-dashoffset="3"/>
<path d="M78.00,516.37 L78.50,516.37 L79.00,516.37 L79.50,516.37 L80.00,516.37 L80.50,516.37 L81.00,516.37 L81.50,516.37 L82.00,516.37 L82.50,516.37 L83.00,516.37 L83.50,516.37 L84.00,516.36 L84.50,516.35 L85.00,516.33 L85.50,516.31 L86.00,516.29 L86.50,516.26 L87.00,516.22 L87.50,516.18 L88.00,516.12 L88.50,516.06 L89.00,515.98 L89.50,515.88 L90.00,515.77 L90.50,515.65 L91.00,515.52 L91.50,515.37 L92.00,515.22 L92.50,515.07 L93.00,514.90 L93.50,514.72 L94.00,514.53 L94.50,514.33 L95.00,514.11 L95.50,513.89 L96.00,513.66 L96.50,513.41 L97.00,513.15 L97.50,512.89 L98.00,512.61 L98.50,512.32 L99.00,512.03 L99.50,511.72 L100.00,511.40 L100.50,511.08 L101.00,510.74 L101.50,510.39 L102.00,510.04 L102.50,509.67 L103.00,509.29 L103.50,508.90 L104.00,508.49 L104.50,508.07 L105.00,507.64 L105.50,507.19 L106.00,506.72 L106.50,506.24 L107.00,505.73 L107.50,505.21 L108.00,504.68 L108.50,504.12 L109.00,503.54 L109.50,502.94 L110.00,502.32 L110.50,501.67 L111.00,501.01 L111.50,500.32 L112.00,499.60 L112.50,498.87 L113.00,498.11 L113.50,497.32 L114.00,496.50 L114.50,495.66 L115.00,494.80 L115.50,493.90 L116.00,492.98 L116.50,492.03 L117.01,491.05 L117.51,490.04 L118.01,489.00 L118.52,487.93 L119.03,486.82 L119.53,485.69 L120.04,484.53 L120.55,483.33 L121.05,482.10 L121.56,480.84 L122.07,479.55 L122.58,478.23 L123.09,476.89 L123.60,475.53 L124.12,474.14 L124.63,472.74 L125.14,471.32 L125.65,469.89 L126.16,468.45 L126.68,466.99 L127.19,465.52 L127.70,464.04 L128.22,462.56 L128.73,461.07 L129.25,459.57 L129.76,458.07 L130.28,456.57 L130.79,455.06 L131.31,453.56 L131.82,452.06 L132.34,450.55 L132.85,449.04 L133.36,447.53 L133.88,446.02 L134.39,444.50 L134.91,442.98 L135.42,441.46 L135.94,439.93 L136.45,438.40 L136.97,436.86 L137.48,435.32 L138.00,433.77 L138.51,432.22 L139.02,430.66 L139.54,429.09 L140.05,427.52 L140.56,425.93 L141.07,424.35 L141.58,422.75 L142.10,421.15 L142.61,419.53 L143.12,417.92 L143.63,416.29 L144.14,414.66 L144.65,413.02 L145.15,411.37 L145.66,409.72 L146.17,408.07 L146.67,406.40 L147.18,404.74 L147.69,403.06 L148.19,401.38 L148.69,399.70 L149.20,398.01 L149.70,396.32 L150.20,394.63 L150.70,392.93 L151.20,391.23 L151.70,389.53 L152.20,387.83 L152.70,386.13 L153.20,384.43 L153.70,382.73 L154.20,381.04 L154.70,379.35 L155.20,377.67 L155.70,376.00 L156.20,374.33 L156.70,372.67 L157.20,371.02 L157.70,369.38 L158.20,367.76 L158.70,366.14 L159.20,364.54 L159.70,362.96 L160.20,361.39 L160.70,359.84 L161.20,358.31 L161.70,356.80 L162.20,355.31 L162.70,353.86 L163.20,352.43 L163.70,351.04 L164.20,349.67 L164.70,348.35 L165.20,347.06 L165.70,345.80 L166.20,344.58 L166.70,343.40 L167.20,342.25 L167.70,341.15 L168.20,340.08 L168.70,339.05 L169.20,338.06 L169.70,337.10 L170.20,336.19 L170.70,335.31 L171.20,334.47 L171.70,333.67 L172.20,332.91 L172.70,332.19 L173.20,331.51 L173.70,330.87 L174.20,330.27 L174.70,329.71 L175.20,329.19 L175.70,328.71 L176.20,328.26 L176.70,327.86 L177.20,327.49 L177.70,327.17 L178.20,326.88 L178.70,326.63 L179.20,326.42 L179.70,326.25 L180.20,326.11 L180.70,326.02 L181.20,325.96 L181.70,325.93 L182.20,325.95 L182.70,326.00 L183.20,326.08 L183.70,326.20 L184.20,326.36 L184.70,326.55 L185.20,326.77 L185.70,327.03 L186.20,327.33 L186.70,327.66 L187.20,328.03 L187.70,328.43 L188.20,328.86 L188.70,329.33 L189.20,329.84 L189.70,330.37 L190.20,330.95 L190.70,331.55 L191.20,332.19 L191.70,332.86 L192.20,333.56 L192.70,334.30 L193.20,335.06 L193.70,335.86 L194.20,336.69 L194.70,337.55 L195.20,338.44 L195.70,339.35 L196.20,340.30 L196.70,341.28 L197.20,342.28 L197.70,343.31 L198.20,344.37 L198.70,345.46 L199.20,346.57 L199.70,347.71 L200.20,348.87 L200.70,350.05 L201.20,351.26 L201.70,352.49 L202.20,353.75 L202.70,355.03 L203.20,356.32 L203.70,357.64 L204.20,358.97 L204.70,360.33 L205.20,361.70 L205.70,363.09 L206.20,364.49 L206.70,365.91 L207.20,367.34 L207.70,368.79 L208.20,370.25 L208.70,371.72 L209.20,373.20 L209.70,374.69 L210.20,376.19 L210.70,377.70 L211.20,379.22 L211.70,380.74 L212.20,382.27 L212.70,383.81 L213.20,385.35 L213.70,386.90 L214.20,388.45 L214.70,390.00 L215.20,391.55 L215.70,393.11 L216.20,394.66 L216.70,396.22 L217.20,397.78 L217.70,399.33 L218.20,400.88 L218.70,402.44 L219.20,403.98 L219.70,405.53 L220.20,407.07 L220.70,408.60 L221.20,410.13 L221.70,411.65 L222.20,413.17 L222.70,414.68 L223.20,416.19 L223.70,417.68 L224.20,419.17 L224.70,420.65 L225.20,422.12 L225.70,423.58 L226.20,425.03 L226.70,426.47 L227.20,427.90 L227.70,429.31 L228.20,430.72 L228.70,432.11 L229.20,433.50 L229.70,434.87 L230.20,436.22 L230.70,437.57 L231.20,438.90 L231.70,440.22 L232.20,441.52 L232.70,442.82 L233.20,444.09 L233.70,445.36 L234.20,446.60 L234.70,447.84 L235.20,449.06 L235.70,450.27 L236.20,451.46 L236.70,452.63 L237.20,453.80 L237.70,454.94 L238.20,456.08 L238.70,457.19 L239.20,458.30 L239.70,459.39 L240.20,460.46 L240.70,461.52 L241.20,462.56 L241.70,463.59 L242.20,464.60 L242.70,465.60 L243.20,466.59 L243.70,467.56 L244.20,468.51 L244.70,469.45 L245.20,470.38 L245.70,471.29 L246.20,472.19 L246.70,473.07 L247.19,473.94 L247.69,474.80 L248.19,475.64 L248.68,476.46 L249.17,477.28 L249.67,478.08 L250.16,478.86 L250.65,479.64 L251.14,480.40 L251.63,481.15 L252.12,481.88 L252.60,482.60 L253.09,483.31 L253.58,484.01 L254.06,484.69 L254.55,485.36 L255.03,486.02 L255.52,486.67 L256.00,487.30 L256.49,487.93 L256.97,488.54 L257.45,489.14 L257.94,489.73 L258.42,490.31 L258.90,490.88 L259.38,491.44 L259.87,491.98 L260.35,492.52 L260.83,493.04 L261.32,493.56 L261.80,494.06 L262.28,494.56 L262.76,495.05 L263.25,495.52 L263.73,495.99 L264.21,496.45 L264.70,496.89 L265.18,497.33 L265.67,497.76 L266.15,498.18 L266.64,498.60 L267.12,499.00 L267.61,499.40 L268.10,499.78 L268.58,500.16 L269.07,500.54 L269.56,500.90 L270.05,501.26 L270.54,501.61 L271.03,501.95 L271.53,502.28 L272.02,502.61 L272.51,502.93 L273.01,503.24 L273.51,503.55 L274.00,503.85 L274.50,504.14 L275.00,504.43 L275.50,504.71 L276.00,504.99 L276.50,505.26 L277.00,505.52 L277.50,505.78 L278.00,506.03 L278.50,506.28 L279.00,506.52 L279.50,506.76 L280.00,506.99 L280.50,507.21 L281.00,507.43 L281.50,507.65 L282.00,507.86 L282.50,508.07 L283.00,508.27 L283.50,508.47 L284.00,508.66 L284.50,508.85 L285.00,509.03 L285.50,509.21 L286.00,509.39 L286.50,509.56 L287.00,509.73 L287.50,509.90 L288.00,510.06 L288.50,510.22 L289.00,510.37 L289.50,510.52 L290.00,510.67 L290.50,510.81 L291.00,510.95 L291.50,511.09 L292.00,511.23 L292.50,511.36 L293.00,511.49 L293.50,511.61 L294.00,511.74 L294.50,511.86 L295.00,511.97 L295.50,512.09 L296.00,512.20 L296.50,512.31 L297.00,512.42 L297.50,512.52 L298.00,512.63 L298.50,512.73 L299.00,512.83 L299.50,512.92 L300.00,513.02 L300.50,513.11 L301.00,513.20 L301.50,513.29 L302.00,513.37 L302.50,513.46 L303.00,513.54 L303.50,513.62 L304.00,513.70 L304.50,513.77 L305.00,513.85 L305.50,513.92 L306.00,513.99 L306.50,514.06 L307.00,514.13 L307.50,514.20 L308.00,514.26 L308.50,514.33 L309.00,514.39 L309.50,514.45 L310.00,514.51 L310.50,514.57 L311.00,514.63 L311.50,514.68 L312.00,514.74 L312.50,514.79 L313.00,514.84 L313.50,514.89 L314.00,514.94 L314.50,514.99 L315.00,515.04 L315.50,515.09 L316.00,515.13 L316.50,515.18 L317.00,515.22 L317.50,515.27 L318.00,515.31 L318.50,515.35 L319.00,515.39 L319.50,515.43 L320.00,515.47 L320.50,515.50 L321.00,515.54 L321.50,515.57 L322.00,515.61 L322.50,515.64 L323.00,515.68 L323.50,515.71 L324.00,515.74 L324.50,515.77 L325.00,515.80 L325.50,515.83 L326.00,515.86 L326.50,515.89 L327.00,515.92 L327.50,515.94 L328.00,515.97 L328.50,516.00 L329.00,516.02 L329.50,516.05 L330.00,516.07 L330.50,516.09 L331.00,516.11 L331.50,516.14 L332.00,516.16 L332.50,516.18 L333.00,516.19 L333.50,516.21 L334.00,516.23 L334.50,516.24 L335.00,516.26 L335.50,516.27 L336.00,516.28 L336.50,516.29 L337.00,516.30 L337.50,516.31 L338.00,516.32 L338.50,516.33 L339.00,516.34 L339.50,516.35 L340.00,516.35 L340.50,516.36 L341.00,516.36 L341.50,516.37 L342.00,516.37 L342.50,516.37 L343.00,516.37 L343.50,516.37 L344.00,516.37 L344.50,516.37 L345.00,516.37 L345.50,516.37 L346.00,516.37 L346.50,516.37 L347.00,516.37 L347.50,516.37 L348.00,516.37 L348.50,516.37 L349.00,516.37 L349.50,516.37 L350.00,516.37 L350.50,516.36 L351.00,516.36 L351.50,516.36 L352.00,516.36 L352.50,516.36 L353.00,516.35 L353.50,516.35 L354.00,516.35 L354.50,516.35 L355.00,516.35 L355.50,516.34 L356.00,516.34 L356.50,516.34 L357.00,516.34 L357.50,516.34 L358.00,516.34 L358.50,516.34 L359.00,516.35 L359.50,516.35 L360.00,516.35 L360.50,516.35 L361.00,516.36 L361.50,516.36 L362.00,516.36 L362.50,516.36 L363.00,516.36 L363.50,516.37 L364.00,516.37 L364.50,516.37 L365.00,516.37 L365.50,516.37 L366.00,516.37 L366.50,516.37 L367.00,516.37 L367.50,516.37 L368.00,516.37" stroke="#800080" stroke-dasharray="1.9 5.8"/>
</g>
<g class="ax">
<rect x="69.9" y="285.3" width="327.10" height="230.95" fill="none" stroke="#000" stroke-width="2.1"/>
<line x1="96.98" y1="516.25" x2="96.98" y2="511.85"/>
<line x1="96.98" y1="285.3" x2="96.98" y2="289.70"/>
<line x1="124.25" y1="516.25" x2="124.25" y2="507.95"/>
<line x1="124.25" y1="285.3" x2="124.25" y2="293.60"/>
<line x1="151.53" y1="516.25" x2="151.53" y2="511.85"/>
<line x1="151.53" y1="285.3" x2="151.53" y2="289.70"/>
<line x1="178.80" y1="516.25" x2="178.80" y2="507.95"/>
<line x1="178.80" y1="285.3" x2="178.80" y2="293.60"/>
<line x1="206.07" y1="516.25" x2="206.07" y2="511.85"/>
<line x1="206.07" y1="285.3" x2="206.07" y2="289.70"/>
<line x1="233.35" y1="516.25" x2="233.35" y2="507.95"/>
<line x1="233.35" y1="285.3" x2="233.35" y2="293.60"/>
<line x1="260.62" y1="516.25" x2="260.62" y2="511.85"/>
<line x1="260.62" y1="285.3" x2="260.62" y2="289.70"/>
<line x1="287.90" y1="516.25" x2="287.90" y2="507.95"/>
<line x1="287.90" y1="285.3" x2="287.90" y2="293.60"/>
<line x1="315.18" y1="516.25" x2="315.18" y2="511.85"/>
<line x1="315.18" y1="285.3" x2="315.18" y2="289.70"/>
<line x1="342.45" y1="516.25" x2="342.45" y2="507.95"/>
<line x1="342.45" y1="285.3" x2="342.45" y2="293.60"/>
<line x1="369.73" y1="516.25" x2="369.73" y2="511.85"/>
<line x1="369.73" y1="285.3" x2="369.73" y2="289.70"/>
<line x1="69.9" y1="487.38" x2="74.30" y2="487.38"/>
<line x1="397.0" y1="487.38" x2="392.00" y2="487.38"/>
<line x1="69.9" y1="458.51" x2="78.20" y2="458.51"/>
<line x1="397.0" y1="458.51" x2="388.20" y2="458.51"/>
<line x1="69.9" y1="429.64" x2="74.30" y2="429.64"/>
<line x1="397.0" y1="429.64" x2="392.00" y2="429.64"/>
<line x1="69.9" y1="400.78" x2="78.20" y2="400.78"/>
<line x1="397.0" y1="400.78" x2="388.20" y2="400.78"/>
<line x1="69.9" y1="371.91" x2="74.30" y2="371.91"/>
<line x1="397.0" y1="371.91" x2="392.00" y2="371.91"/>
<line x1="69.9" y1="343.04" x2="78.20" y2="343.04"/>
<line x1="397.0" y1="343.04" x2="388.20" y2="343.04"/>
<line x1="69.9" y1="314.17" x2="74.30" y2="314.17"/>
<line x1="397.0" y1="314.17" x2="392.00" y2="314.17"/>
</g>
<g class="tk">
<text x="69.70" y="535.45" text-anchor="middle">0</text>
<text x="124.25" y="535.45" text-anchor="middle">2</text>
<text x="178.80" y="535.45" text-anchor="middle">4</text>
<text x="233.35" y="535.45" text-anchor="middle">6</text>
<text x="287.90" y="535.45" text-anchor="middle">8</text>
<path d="M806,0H525V1059Q371,915 162,846V1101Q272,1137 401,1237.5Q530,1338 578,1472H806Z" transform="translate(334.67,535.45) scale(0.006836,-0.006836)" fill="#000"/>
<text x="342.45" y="535.45">0</text>
<path d="M806,0H525V1059Q371,915 162,846V1101Q272,1137 401,1237.5Q530,1338 578,1472H806Z" transform="translate(389.22,535.45) scale(0.006836,-0.006836)" fill="#000"/>
<text x="397.00" y="535.45">2</text>
<text x="61.2" y="520.50" text-anchor="end">0.0</text>
<text x="61.2" y="462.75" text-anchor="end">0.2</text>
<text x="61.2" y="405.00" text-anchor="end">0.4</text>
<text x="61.2" y="347.25" text-anchor="end">0.6</text>
<text x="61.2" y="288.80" text-anchor="end">0.8</text>
<text x="233.4" y="555.4" text-anchor="middle">r (fm)</text>
</g>
<text x="79.8" y="499.6" font-size="14.5">(b)</text>
<g>
<line x1="266.4" y1="316.20" x2="295.6" y2="316.20" stroke="#0000ff" stroke-width="2"/>
<path d="M806,0H525V1059Q371,915 162,846V1101Q272,1137 401,1237.5Q530,1338 578,1472H806Z" transform="translate(298.50,320.30) scale(0.006152,-0.006152)" fill="#000"/>
<text class="lg" x="306.6" y="320.30">f</text>
<path d="M306.7,310.15 c0.7,-0.9 1.4,-0.9 2.3,-0.2 c0.9,0.7 1.6,0.7 2.3,-0.2" fill="none" stroke="#000" stroke-width="1.15"/>
<text class="sb" x="311.6" y="325.30">5/2</text>
<text class="lg" x="323.6" y="320.30" xml:space="preserve"> with s.o.</text>
<line x1="266.4" y1="336.40" x2="295.6" y2="336.40" stroke="#ff0000" stroke-width="2" stroke-dasharray="9.6 2.4 2.1 2.4"/>
<path d="M806,0H525V1059Q371,915 162,846V1101Q272,1137 401,1237.5Q530,1338 578,1472H806Z" transform="translate(298.50,340.50) scale(0.006152,-0.006152)" fill="#000"/>
<text class="lg" x="306.6" y="340.50">f</text>
<path d="M306.7,330.35 c0.7,-0.9 1.4,-0.9 2.3,-0.2 c0.9,0.7 1.6,0.7 2.3,-0.2" fill="none" stroke="#000" stroke-width="1.15"/>
<text class="sb" x="311.6" y="345.50">5/2</text>
<text class="lg" x="323.6" y="340.50" xml:space="preserve"> w/o  s.o.</text>
<line x1="266.4" y1="356.60" x2="295.6" y2="356.60" stroke="#008000" stroke-width="2" stroke-dasharray="7.2 5.4"/>
<path d="M806,0H525V1059Q371,915 162,846V1101Q272,1137 401,1237.5Q530,1338 578,1472H806Z" transform="translate(298.50,360.70) scale(0.006152,-0.006152)" fill="#000"/>
<text class="lg" x="306.6" y="360.70">f</text>
<path d="M306.7,350.55 c0.7,-0.9 1.4,-0.9 2.3,-0.2 c0.9,0.7 1.6,0.7 2.3,-0.2" fill="none" stroke="#000" stroke-width="1.15"/>
<text class="sb" x="311.6" y="365.70">7/2</text>
<text class="lg" x="323.6" y="360.70" xml:space="preserve"> with s.o.</text>
<line x1="266.4" y1="376.80" x2="295.6" y2="376.80" stroke="#800080" stroke-width="2" stroke-dasharray="2 5.7"/>
<path d="M806,0H525V1059Q371,915 162,846V1101Q272,1137 401,1237.5Q530,1338 578,1472H806Z" transform="translate(298.50,380.90) scale(0.006152,-0.006152)" fill="#000"/>
<text class="lg" x="306.6" y="380.90">f</text>
<path d="M306.7,370.75 c0.7,-0.9 1.4,-0.9 2.3,-0.2 c0.9,0.7 1.6,0.7 2.3,-0.2" fill="none" stroke="#000" stroke-width="1.15"/>
<text class="sb" x="311.6" y="385.90">7/2</text>
<text class="lg" x="323.6" y="380.90" xml:space="preserve"> w/o  s.o.</text>
</g>
<g transform="translate(22.5,449.3) rotate(-90)">
<text class="yl" x="0.4" y="0">R</text>
<path d="M1.5,-11.6 c1.2,-1.7 2.4,-1.7 3.8,-0.6 c1.4,1.1 2.6,1.1 3.8,-0.6" fill="none" stroke="#000" stroke-width="1.25"/>
<text class="ys" x="10.8" y="5.4">n</text>
<text class="ys" x="17.9" y="5.4">l</text>
<text class="ys" x="21.8" y="5.4">j</text>
<path d="M11.7,-3.0 c0.7,-1.0 1.4,-1.0 2.2,-0.3 c0.8,0.7 1.5,0.7 2.2,-0.3" fill="none" stroke="#000" stroke-width="1.0"/>
<path d="M17.8,-3.0 c0.6,-1.0 1.2,-1.0 1.8,-0.3 c0.6,0.7 1.2,0.7 1.8,-0.3" fill="none" stroke="#000" stroke-width="1.0"/>
<text class="yl" x="27.9" y="0" textLength="22.9" lengthAdjust="spacingAndGlyphs">(fm</text>
<text class="ys" style="font-size:10.6px" x="51.0" y="-7.6">-</text>
<path d="M806,0H525V1059Q371,915 162,846V1101Q272,1137 401,1237.5Q530,1338 578,1472H806Z" transform="translate(54.55,-7.60) scale(0.005176,-0.005176)" fill="#000"/>
<text class="ys" style="font-size:10.6px" x="60.45" y="-7.6">/2</text>
<text class="yl" x="68.2" y="0">)</text>
</g>
</svg>
</body></html>
